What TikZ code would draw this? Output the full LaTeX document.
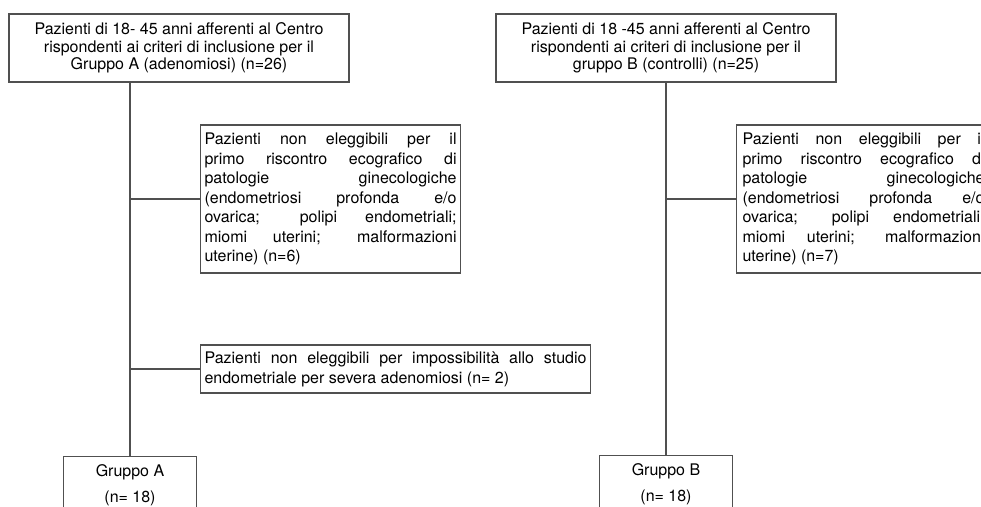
\documentclass[tikz,border=0pt]{standalone}
\usepackage{fontspec}
\setmainfont{TeX Gyre Heros}
\definecolor{linegray}{HTML}{505050}
\begin{document}
\begin{tikzpicture}[x=1pt,y=-1pt,
  box/.style={draw=linegray,line width=1.1pt,inner sep=0pt,fill=white},
  topbox/.style={box,minimum width=340,minimum height=68,align=center,
    font=\fontsize{16}{17.5}\selectfont},
  exbox/.style={box,align=justify,inner xsep=4,
    font=\fontsize{16}{19.5}\selectfont},
  grbox/.style={box,minimum width=133,minimum height=58,align=center,anchor=north,
    font=\fontsize{16}{26}\selectfont},
  conn/.style={draw=linegray,line width=1.1pt}]
\useasboundingbox (0,0) rectangle (981,506);
\clip (0,0) rectangle (981,506);
\fill[white] (0,0) rectangle (981,506);

\node[topbox] (topA) at (179,48) {Pazienti di 18- 45 anni afferenti al Centro\\rispondenti ai criteri di inclusione per il\\Gruppo A (adenomiosi) (n=26)};
\node[topbox] (topB) at (666,48) {Pazienti di 18 -45 anni afferenti al Centro\\rispondenti ai criteri di inclusione per il\\gruppo B (controlli) (n=25)};

\node[exbox,text width=252,minimum height=148,anchor=west] (exA1) at (200,199) {Pazienti non eleggibili per il\linebreak primo riscontro ecografico di\linebreak patologie ginecologiche\linebreak (endometriosi profonda e/o\linebreak ovarica; polipi endometriali;\linebreak miomi uterini; malformazioni\linebreak uterine) (n=6)};
\node[exbox,text width=382,minimum height=48,anchor=west,
  font=\fontsize{16}{20}\selectfont] (exA2) at (200,369) {Pazienti non eleggibili per impossibilità allo studio\linebreak endometriale per severa adenomiosi (n= 2)};
\node[exbox,text width=242,inner xsep=6,minimum height=148,anchor=west] (exB1) at (736,199) {Pazienti non eleggibili per il\linebreak primo riscontro ecografico di\linebreak patologie ginecologiche\linebreak (endometriosi profonda e/o\linebreak ovarica; polipi endometriali;\linebreak miomi uterini; malformazioni\linebreak uterine) (n=7)};

\node[grbox] (grA) at (130,456) {Gruppo A\\(n= 18)};
\node[grbox] (grB) at (666,455) {Gruppo B\\(n= 18)};

\path[conn] (grA.north |- topA.south) -- (grA.north);
\path[conn] (grA.north |- exA1.west) -- (exA1.west);
\path[conn] (grA.north |- exA2.west) -- (exA2.west);
\path[conn] (topB.south) -- (grB.north);
\path[conn] (grB.north |- exB1.west) -- (exB1.west);
\end{tikzpicture}
\end{document}
